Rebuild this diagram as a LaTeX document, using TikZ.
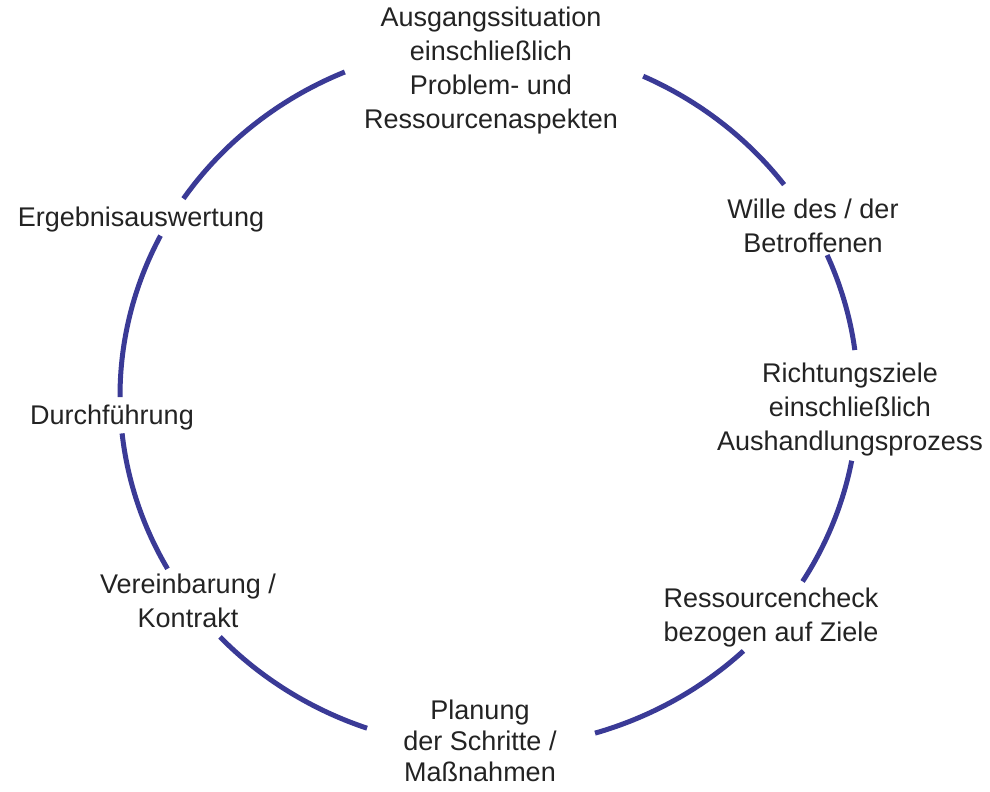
\documentclass[tikz,border=0pt]{standalone}
\usepackage{fontspec}
\setmainfont{Liberation Sans}
\definecolor{ringblue}{RGB}{58,58,150}
\definecolor{textgray}{RGB}{35,35,35}

\begin{document}
\begin{tikzpicture}[x=1pt, y=1pt]

  % Styles
  \tikzset{
    ring/.style={draw=ringblue, line width=5pt},
    phase/.style={align=center, text=textgray, inner sep=0pt, font=\fontsize{27}{34}\selectfont}
  }

  \useasboundingbox (0,0) rectangle (990,792);
  \coordinate (C) at (489,396);

  % --- Ring, broken where the labels sit ---
  \foreach \a/\b in {7.5/23.6, 36.9/65.3, 113/145.9, 152.9/180.2, 186.1/209.4, 223.2/250.7, 286.7/313.6, 328.2/349.4}
    \draw[ring] (C) ++(\a:369 and 352) arc[start angle=\a, end angle=\b, x radius=369, y radius=352];

  % --- Phases, clockwise from the top ---
  \node[phase] (ausgang) at (491,721) {Ausgangssituation\\einschließlich\\Problem- und\\Ressourcenaspekten};
  \node[phase] (wille) at (813,566) {Wille des / der\\Betroffenen};
  \node[phase] (ziele) at (850,382) {Richtungsziele\\einschließlich\\Aushandlungsprozess};
  \node[phase] (check) at (771,174) {Ressourcencheck\\bezogen auf Ziele};
  \node[phase, font=\fontsize{27}{31}\selectfont] (planung) at (480,51) {Planung\\der Schritte /\\Maßnahmen};
  \node[phase] (kontrakt) at (188,191) {Vereinbarung /\\Kontrakt};
  \node[phase] (durchf) at (112,374) {Durchführung};
  \node[phase] (auswert) at (141,572) {Ergebnisauswertung};

\end{tikzpicture}
\end{document}
